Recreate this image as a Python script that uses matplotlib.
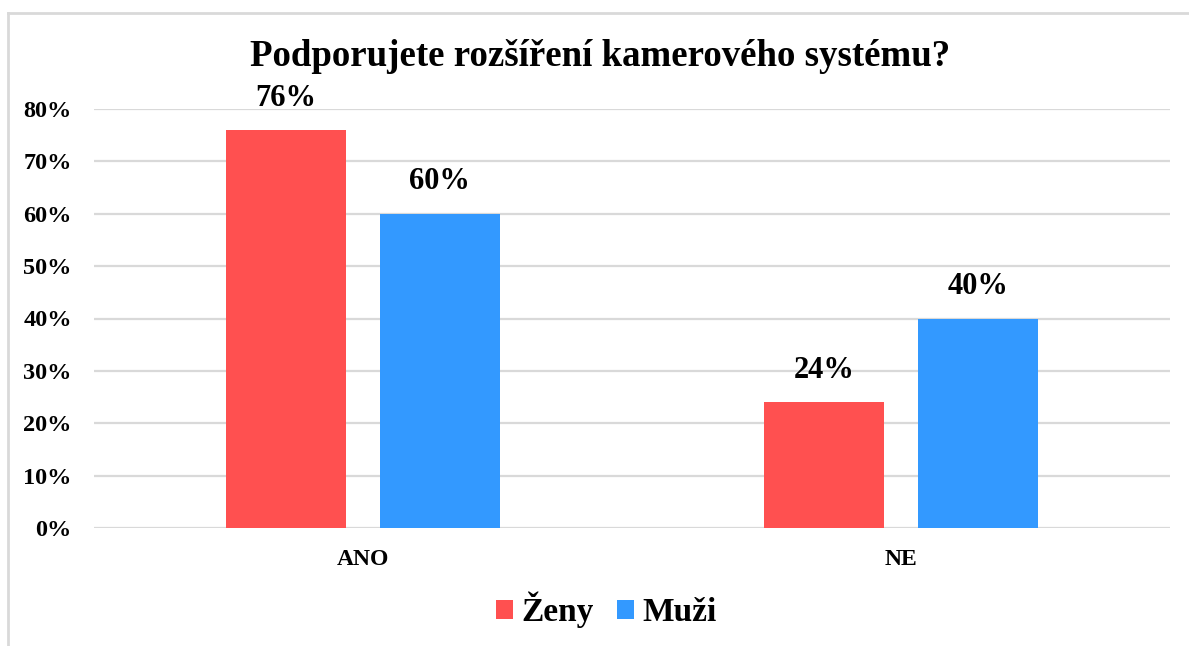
import matplotlib.pyplot as plt
import numpy as np
from matplotlib.lines import Line2D
from matplotlib.patches import Patch

categories = ["ANO", "NE"]
series_names = ["Ženy", "Muži"]
zeny = [0.76, 0.24]
muzi = [0.60, 0.40]
yticks = [0.0, 0.1, 0.2, 0.3, 0.4, 0.5, 0.6, 0.7, 0.8]
title = "Podporujete rozšíření kamerového systému?"

colors = ["#FF5050", "#3399FF"]

plt.rcParams['font.family'] = ['Liberation Serif', 'DejaVu Serif']

fig = plt.figure(figsize=(11.89, 6.46), dpi=100)
W, H = 1189, 646
ax = fig.add_axes([94 / W, 1 - 528 / H, (1170 - 94) / W, (528 - 109) / H])

x = np.arange(len(categories))
bw = 0.222
off = 0.143
b1 = ax.bar(x - off, zeny, bw, color=colors[0], zorder=3)
b2 = ax.bar(x + off, muzi, bw, color=colors[1], zorder=3)

for bars, vals in ((b1, zeny), (b2, muzi)):
    for r, v in zip(bars, vals):
        ax.text(r.get_x() + r.get_width() / 2, v + 0.033, f"{v*100:.0f}%",
                ha="center", va="bottom", fontsize=22, fontweight="bold",
                clip_on=False)

ax.set_xlim(-0.5, 1.5)
ax.set_ylim(0, 0.8)
ax.set_yticks(yticks)
ax.set_yticklabels([f"{t*100:.0f}%" for t in yticks], fontsize=17.5, fontweight="bold")
ax.set_xticks(x)
ax.set_xticklabels(categories, fontsize=17, fontweight="bold")
ax.tick_params(axis="both", length=0)
ax.tick_params(axis="y", pad=16)
ax.tick_params(axis="x", pad=15)
ax.yaxis.grid(True, color="#D9D9D9", linewidth=1.6, zorder=0)
ax.set_axisbelow(True)
for s in ax.spines.values():
    s.set_visible(False)

fig.text(0.505, 1 - 57 / H, title, ha="center", va="center", fontsize=26.6, fontweight="bold")

handles = [Patch(facecolor=c) for c in colors]
fig.legend(handles, series_names, loc="center", bbox_to_anchor=(0.51, 1 - 610 / H),
           ncol=2, frameon=False, prop={"size": 24, "weight": "bold"},
           handlelength=0.5, handleheight=0.5, handletextpad=0.25, columnspacing=0.7)

# outer chart border (top and left visible)
fig.add_artist(Line2D([8 / W, 1.0], [1 - 13 / H, 1 - 13 / H], color="#D9D9D9", linewidth=2))
fig.add_artist(Line2D([8 / W, 8 / W], [1 - 13 / H, 0], color="#D9D9D9", linewidth=2))

fig.savefig("out.png", dpi=100, facecolor="white")
